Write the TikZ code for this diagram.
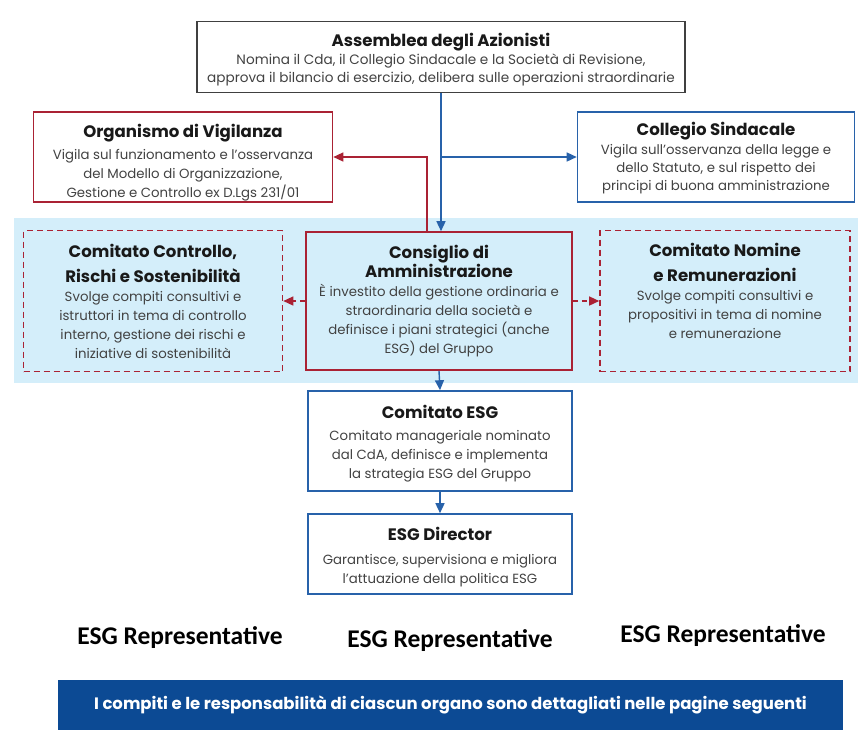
\documentclass[tikz,border=0pt]{standalone}
\usepackage{fontspec}
\setmainfont{Poppins}
\newfontfamily\repfont{Carlito}
\usepackage{xcolor}
\definecolor{orgred}{RGB}{170,34,52}
\definecolor{orgblue}{RGB}{40,98,170}
\definecolor{bandblue}{RGB}{212,238,250}
\definecolor{footblue}{RGB}{12,74,148}
\definecolor{bodygray}{RGB}{66,66,66}
\usetikzlibrary{positioning,arrows.meta}
\newcommand{\titolo}[1]{{\fontsize{16.6}{20}\selectfont\bfseries\color{black!90}#1}}

\begin{document}
\begin{tikzpicture}[x=1pt,y=-1pt,
  organo/.style={draw,line width=1.6pt,fill=white,align=center,inner sep=0pt,
    text=bodygray,font=\fontsize{13.3}{19}\selectfont},
  boxgrigio/.style={organo,draw=black!75},
  boxrosso/.style={organo,draw=orgred},
  boxblu/.style={organo,draw=orgblue},
  boxtratto/.style={organo,draw=orgred,fill=bandblue,dash pattern=on 6pt off 4pt},
  frblu/.style={draw=orgblue,line width=1.4pt,-{Triangle[length=10pt,width=9pt]}},
  frrosso/.style={draw=orgred,line width=1.4pt,-{Triangle[length=10pt,width=9pt]}},
  frtratto/.style={frrosso,dash pattern=on 5pt off 4pt},
  etichetta/.style={font=\repfont\bfseries\fontsize{25.5}{30}\selectfont,text=black}]
  \useasboundingbox (0,0) rectangle (859,740);
  % fascia dei comitati
  \fill[bandblue] (14,218) rectangle (858,383);
  % --- livello alto ---
  \node[boxgrigio,minimum width=488pt,minimum height=71pt,font=\fontsize{13.6}{18}\selectfont]
    (assemblea) at (441,57) {\rule{0pt}{18pt}\titolo{Assemblea degli Azionisti}\\
    Nomina il Cda, il Collegio Sindacale e la Società di Revisione,\\
    approva il bilancio di esercizio, delibera sulle operazioni straordinarie};
  \node[boxrosso,minimum width=299pt,minimum height=90pt] (vigilanza) at (183,157)
    {\rule{0pt}{24pt}\titolo{Organismo di Vigilanza}\\[3pt]
    Vigila sul funzionamento e l’osservanza\\
    del Modello di Organizzazione,\\
    Gestione e Controllo ex D.Lgs 231/01};
  \node[boxblu,minimum width=277pt,minimum height=90pt,font=\fontsize{13.3}{18}\selectfont]
    (sindacale) at (716,157) {\rule{0pt}{16pt}\titolo{Collegio Sindacale}\\[1pt]
    Vigila sull’osservanza della legge e\\
    dello Statuto, e sul rispetto dei\\
    principi di buona amministrazione};
  % --- fascia comitati ---
  \node[boxrosso,fill=bandblue,minimum width=266pt,minimum height=138pt] (cda) at (439,301)
    {\titolo{Consiglio di}\\\titolo{Amministrazione}\\
    È investito della gestione ordinaria e\\
    straordinaria della società e\\
    definisce i piani strategici (anche\\
    ESG) del Gruppo};
  \node[boxtratto,minimum width=259pt,minimum height=141pt] (controllo) at (153,301)
    {\titolo{Comitato Controllo,}\\[6pt]\titolo{Rischi e Sostenibilità}\\
    Svolge compiti consultivi e\\
    istruttori in tema di controllo\\
    interno, gestione dei rischi e\\
    iniziative di sostenibilità};
  \node[boxtratto,minimum width=250pt,minimum height=141pt] (nomine) at (725,301)
    {\titolo{Comitato Nomine}\\[6pt]\titolo{e Remunerazioni}\\
    Svolge compiti consultivi e\\
    propositivi in tema di nomine\\
    e remunerazione\\[1pt]\mbox{}};
  % --- livello manageriale ---
  \node[boxblu,minimum width=264pt,minimum height=100pt] (esg) at (440,441)
    {\rule{0pt}{18pt}\titolo{Comitato ESG}\\[3pt]
    Comitato manageriale nominato\\
    dal CdA, definisce e implementa\\
    la strategia ESG del Gruppo};
  \node[boxblu,minimum width=264pt,minimum height=80pt] (director) at (440,554)
    {\rule{0pt}{20pt}\titolo{ESG Director}\\[5pt]
    Garantisce, supervisiona e migliora\\
    l’attuazione della politica ESG};
  % rappresentanti
  \node[etichetta] (repsx) at (180,638) {ESG Representative};
  \node[etichetta] (repcentro) at (450,641) {ESG Representative};
  \node[etichetta] (repdx) at (723,636) {ESG Representative};
  % barra finale
  \node[fill=footblue,text=white,minimum width=785pt,minimum height=50pt,inner sep=0pt,
    font=\bfseries\fontsize{16.5}{20}\selectfont] (avviso) at (450.5,705)
    {I compiti e le responsabilità di ciascun organo sono dettagliati nelle pagine seguenti};
  % collegamenti
  \coordinate (snodo) at (assemblea.south |- sindacale.west);
  \draw[frblu] (assemblea.south) -- (assemblea.south |- cda.north);
  \draw[frblu] (snodo) -- (sindacale.west);
  \draw[frrosso] ([xshift=-12pt]cda.north) |- (vigilanza.east);
  \draw[frtratto] (cda.west) -- (controllo.east);
  \draw[frtratto] (cda.east) -- (nomine.west);
  \draw[frblu] (cda.south) -- (esg.north);
  \draw[frblu] (esg.south) -- (director.north);
\end{tikzpicture}
\end{document}
